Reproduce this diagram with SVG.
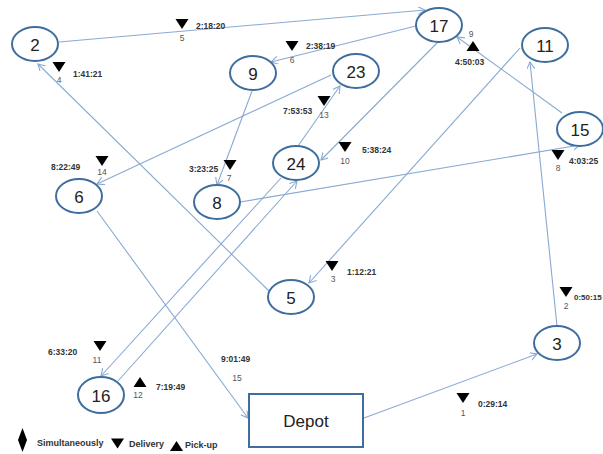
<svg xmlns="http://www.w3.org/2000/svg" width="603" height="454" viewBox="0 0 603 454">
<style>
.node ellipse{fill:#fff;stroke:#3F6E9E;stroke-width:2}
.node rect{fill:#fff;stroke:#3F6E9E;stroke-width:2}
.nl{font-family:"Liberation Sans",Arial,sans-serif;font-size:17px;fill:#222;text-anchor:middle;dominant-baseline:central}
.edge{stroke:#88AAD2;stroke-width:1.1;fill:none;marker-end:url(#arr)}
.t{font-family:"Liberation Sans",Arial,sans-serif;font-size:8.5px;font-weight:bold;fill:#333}
.n{font-family:"Liberation Sans",Arial,sans-serif;font-size:8.5px;fill:#555;text-anchor:middle}
.lg{font-family:"Liberation Sans",Arial,sans-serif;font-size:9px;font-weight:bold;fill:#333}
.tri{fill:#000}
</style>
<defs>
<marker id="arr" markerUnits="userSpaceOnUse" markerWidth="10" markerHeight="10" refX="7" refY="4" orient="auto">
<path d="M0,0 L7,4 L0,8" fill="none" stroke="#88AAD2" stroke-width="1.1"/>
</marker>
<path id="down" d="M-6.5,-5 L6.5,-5 L0,5 Z"/>
<path id="up" d="M-6.5,5 L6.5,5 L0,-5 Z"/>
</defs>
<rect width="603" height="454" fill="#fff"/>
<g id="connectors">
<line class="edge" x1="364" y1="418" x2="537" y2="354"/>
<line class="edge" x1="557" y1="326" x2="530" y2="62"/>
<line class="edge" x1="520" y1="48" x2="309" y2="283"/>
<line class="edge" x1="269" y1="291" x2="38" y2="64"/>
<line class="edge" x1="59" y1="42" x2="425" y2="10"/>
<line class="edge" x1="416" y1="26" x2="271" y2="62"/>
<line class="edge" x1="252" y1="91" x2="217" y2="185"/>
<line class="edge" x1="240" y1="202" x2="580" y2="145"/>
<line class="edge" x1="562" y1="113" x2="457" y2="37"/>
<line class="edge" x1="438" y1="42" x2="321" y2="160"/>
<line class="edge" x1="281" y1="178" x2="101" y2="376"/>
<line class="edge" x1="118" y1="381" x2="297" y2="181"/>
<line class="edge" x1="298" y1="146" x2="340" y2="86"/>
<line class="edge" x1="331" y1="75" x2="97" y2="184"/>
<line class="edge" x1="97" y1="211" x2="248" y2="418"/>
</g>
<g id="n2" class="node"><ellipse cx="35" cy="44" rx="23" ry="17"/><text class="nl" x="35" y="45">2</text></g>
<g id="n17" class="node"><ellipse cx="439" cy="25" rx="23" ry="17"/><text class="nl" x="439" y="26">17</text></g>
<g id="n11" class="node"><ellipse cx="545" cy="45" rx="23" ry="17"/><text class="nl" x="545" y="46">11</text></g>
<g id="n15" class="node"><ellipse cx="580" cy="129" rx="23" ry="17"/><text class="nl" x="580" y="130">15</text></g>
<g id="n9" class="node"><ellipse cx="253" cy="73" rx="23" ry="17"/><text class="nl" x="253" y="74">9</text></g>
<g id="n23" class="node"><ellipse cx="356" cy="71" rx="23" ry="17"/><text class="nl" x="356" y="72">23</text></g>
<g id="n24" class="node"><ellipse cx="296" cy="163" rx="23" ry="17"/><text class="nl" x="296" y="164">24</text></g>
<g id="n8" class="node"><ellipse cx="217" cy="202" rx="23" ry="17"/><text class="nl" x="217" y="203">8</text></g>
<g id="n6" class="node"><ellipse cx="79" cy="196" rx="23" ry="17"/><text class="nl" x="79" y="197">6</text></g>
<g id="n5" class="node"><ellipse cx="291" cy="297" rx="23" ry="17"/><text class="nl" x="291" y="298">5</text></g>
<g id="n3" class="node"><ellipse cx="557" cy="343" rx="23" ry="17"/><text class="nl" x="557" y="344">3</text></g>
<g id="n16" class="node"><ellipse cx="101" cy="395" rx="23" ry="18"/><text class="nl" x="101" y="396">16</text></g>
<g id="depot" class="node"><rect x="249" y="394" width="114" height="53"/><text class="nl" x="306" y="421">Depot</text></g>
<g id="labels">
<use href="#down" class="tri" x="182" y="24"/><text class="n" x="182" y="41">5</text><text class="t" x="196" y="29">2:18:20</text>
<use href="#down" class="tri" x="292" y="46"/><text class="n" x="292" y="63">6</text><text class="t" x="306" y="49">2:38:19</text>
<use href="#down" class="tri" x="324" y="101"/><text class="n" x="324" y="118">13</text><text class="t" x="283" y="114">7:53:53</text>
<use href="#down" class="tri" x="59" y="67"/><text class="n" x="59" y="83">4</text><text class="t" x="73" y="77">1:41:21</text>
<use href="#up" class="tri" x="473" y="46"/><text class="n" x="471" y="37">9</text><text class="t" x="455" y="65">4:50:03</text>
<use href="#down" class="tri" x="558" y="155"/><text class="n" x="558" y="171">8</text><text class="t" x="569" y="164">4:03:25</text>
<use href="#down" class="tri" x="345" y="147"/><text class="n" x="345" y="164">10</text><text class="t" x="362" y="153">5:38:24</text>
<use href="#down" class="tri" x="230" y="165"/><text class="n" x="229" y="181">7</text><text class="t" x="189" y="172">3:23:25</text>
<use href="#down" class="tri" x="102" y="161"/><text class="n" x="102" y="175">14</text><text class="t" x="51" y="170">8:22:49</text>
<use href="#down" class="tri" x="332" y="266"/><text class="n" x="333" y="282">3</text><text class="t" x="347" y="275">1:12:21</text>
<use href="#down" class="tri" x="566" y="292"/><text class="n" x="566" y="309">2</text><text class="t" x="574" y="300" style="font-size:8px">0:50:15</text>
<use href="#down" class="tri" x="463" y="398"/><text class="n" x="463" y="416">1</text><text class="t" x="478" y="407">0:29:14</text>
<use href="#down" class="tri" x="100" y="346"/><text class="n" x="97" y="363">11</text><text class="t" x="48" y="355">6:33:20</text>
<use href="#up" class="tri" x="140" y="382"/><text class="n" x="138" y="398">12</text><text class="t" x="156" y="390">7:19:49</text>
<text class="t" x="221" y="362">9:01:49</text><text class="n" x="237" y="381">15</text>
</g>
<g id="legend">
<path d="M22.5,428 L27,440 L22.5,452 L18,440 Z" fill="#000"/>
<text class="lg" x="37" y="446">Simultaneously</text>
<use href="#down" class="tri" x="117.5" y="443.5"/>
<text class="lg" x="129" y="447">Delivery</text>
<use href="#up" class="tri" x="176.5" y="446"/>
<text class="lg" x="185" y="448">Pick-up</text>
</g>
</svg>
